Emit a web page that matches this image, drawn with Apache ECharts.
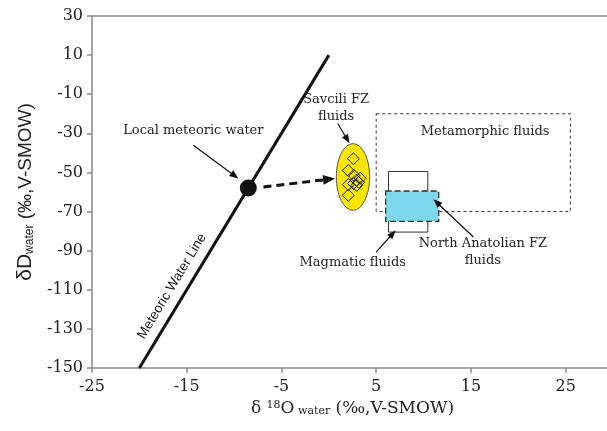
<!DOCTYPE html>
<html><head><meta charset="utf-8">
<script src="https://cdn.jsdelivr.net/npm/echarts@6/dist/echarts.min.js"></script>
<style>html,body{margin:0;padding:0;background:#fff}#c{width:607px;height:431px}</style>
</head><body><div id="c"></div>
<script>
// ---- data ----
const xTicks = [-25, -15, -5, 5, 15, 25];
const yTicks = [-150, -130, -110, -90, -70, -50, -30, -10, 10, 30];
const meteoricWaterLine = [[-20, -150], [0, 10]];
const localMeteoricWater = [[-8.5, -58]];
const savciliFZ = [[2.6, -43], [2.05, -49], [2.65, -51.5], [2.9, -54], [2.6, -55.7], [3.15, -55], [2.05, -56.2], [2.95, -56.6], [3.3, -53], [2.05, -61.7]];
const savciliEllipse = [[2.55, -52.3, 1.76, 17]];      // cx, cy, rx, ry
const metamorphicBox = [[5, -70, 25.5, -20]];           // x1, y1, x2, y2
const magmaticBox = [[6.3, -80.5, 10.45, -49.5]];
const northAnatolianBox = [[6, -75, 11.6, -59.5]];
const pointerArrows = [[-14.3, -36.1, -9.55, -53.1], [0.94, -25, 2.19, -35.1], [4.99, -90.7, 7.07, -79.6], [15.26, -83, 11.04, -63.7]];
const mixingArrow = [[-6.9, -57.4, 0.66, -53.1]];
const labelTexts = ['Local meteoric water', 'Savcili FZ\nfluids', 'Metamorphic fluids', 'Magmatic fluids', 'North Anatolian FZ\nfluids'];
const labelAnchors = [[-14.3, -28.4], [0.77, -17.2], [16.5, -29.3], [2.53, -96.1], [16.26, -90.8]];
const lineLabelText = 'Meteoric Water Line';
const lineLabelAnchor = [[-16.55, -108.2]];

// ---- chart ----
const axisGray = '#8a8a8a';
const serif = '"DejaVu Serif", serif';
const sans = '"Liberation Sans", "Open Sans", sans-serif';

function boxItem(style) {
  return function (params, api) {
    const p1 = api.coord([api.value(0), api.value(3)]);
    const p2 = api.coord([api.value(2), api.value(1)]);
    return { type: 'rect', shape: { x: p1[0], y: p1[1], width: p2[0] - p1[0], height: p2[1] - p1[1] }, style: style };
  };
}
function arrowItem(headLen, headW, lineW, dash) {
  return function (params, api) {
    const a = api.coord([api.value(0), api.value(1)]);
    const b = api.coord([api.value(2), api.value(3)]);
    const dx = b[0] - a[0], dy = b[1] - a[1], L = Math.hypot(dx, dy);
    const ux = dx / L, uy = dy / L;
    const base = [b[0] - ux * headLen, b[1] - uy * headLen];
    const px = -uy, py = ux;
    return { type: 'group', children: [
      { type: 'line', shape: { x1: a[0], y1: a[1], x2: base[0] + ux, y2: base[1] + uy }, style: { stroke: '#111', lineWidth: lineW, lineDash: dash } },
      { type: 'polygon', shape: { points: [b, [base[0] + px * headW, base[1] + py * headW], [base[0] - px * headW, base[1] - py * headW]] }, style: { fill: '#111' } }
    ] };
  };
}

const chart = echarts.init(document.getElementById('c'), null, { renderer: 'canvas' });
chart.setOption({
  animation: false,
  backgroundColor: '#fff',
  grid: { left: 92, top: 16, width: 521, height: 352, outerBoundsMode: 'none', containLabel: false },
  xAxis: [{
    type: 'value', min: -25, max: 30, interval: 10,
    axisLine: { show: true, onZero: false, lineStyle: { color: axisGray, width: 1.5 } },
    axisTick: { show: true, length: 5, customValues: xTicks, lineStyle: { color: axisGray, width: 1.5 } },
    axisLabel: { customValues: xTicks, margin: 11, color: '#222', fontFamily: serif, fontSize: 16 },
    splitLine: { show: false },
    name: '{a|δ }{sup|18}{a|O}{sub| water}{a| (‰,V-SMOW)}',
    nameLocation: 'middle', nameGap: 20,
    nameTextStyle: {
      rich: {
        a: { fontFamily: serif, fontSize: 17, color: '#222' },
        sup: { fontFamily: serif, fontSize: 11, color: '#222', verticalAlign: 'top' },
        sub: { fontFamily: serif, fontSize: 11, color: '#222', verticalAlign: 'bottom' }
      }
    }
  }, {
    type: 'value', position: 'top', min: -25, max: 30,
    axisLine: { show: true, onZero: false, lineStyle: { color: axisGray, width: 1.5 } },
    axisTick: { show: false }, axisLabel: { show: false }, splitLine: { show: false }
  }],
  yAxis: {
    type: 'value', min: -150, max: 30, interval: 20,
    axisLine: { show: true, onZero: false, lineStyle: { color: axisGray, width: 1.5 } },
    axisTick: { show: true, length: 5, customValues: yTicks, lineStyle: { color: axisGray, width: 1.5 } },
    axisLabel: { customValues: yTicks, margin: 9, color: '#222', fontFamily: serif, fontSize: 16 },
    splitLine: { show: false },
    name: '{d|δD}{s|water}{n| (‰,V-SMOW)}',
    nameLocation: 'middle', nameRotate: 90, nameGap: 56,
    nameTextStyle: {
      rich: {
        d: { fontFamily: sans, fontSize: 21, color: '#222' },
        s: { fontFamily: sans, fontSize: 12, color: '#222', verticalAlign: 'bottom' },
        n: { fontFamily: sans, fontSize: 19, color: '#222' }
      }
    }
  },
  series: [
    { type: 'custom', data: metamorphicBox, encode: { x: [0, 2], y: [1, 3] }, z: 1,
      renderItem: boxItem({ fill: 'none', stroke: '#333', lineWidth: 1, lineDash: [3, 3] }) },
    { type: 'custom', data: magmaticBox, encode: { x: [0, 2], y: [1, 3] }, z: 2,
      renderItem: boxItem({ fill: 'none', stroke: '#333', lineWidth: 1 }) },
    { type: 'custom', data: northAnatolianBox, encode: { x: [0, 2], y: [1, 3] }, z: 3,
      renderItem: boxItem({ fill: '#7fd6ef', stroke: '#333', lineWidth: 1.3, lineDash: [6, 3] }) },
    { type: 'custom', data: savciliEllipse, encode: { x: 0, y: 1 }, z: 4,
      renderItem: function (params, api) {
        const c = api.coord([api.value(0), api.value(1)]);
        const s = api.size([api.value(2), api.value(3)]);
        return { type: 'ellipse', shape: { cx: c[0], cy: c[1], rx: s[0], ry: s[1] }, style: { fill: '#ffe600', stroke: '#555', lineWidth: 1 } };
      } },
    { type: 'scatter', data: savciliFZ, symbol: 'diamond', symbolSize: 12, z: 5,
      itemStyle: { color: 'rgba(0,0,0,0)', borderColor: '#222', borderWidth: 1, opacity: 1 } },
    { type: 'line', data: meteoricWaterLine, symbol: 'none', z: 6,
      lineStyle: { color: '#111', width: 3 } },
    { type: 'scatter', data: localMeteoricWater, symbol: 'circle', symbolSize: 17, z: 7,
      itemStyle: { color: '#111', opacity: 1 } },
    { type: 'custom', data: pointerArrows, encode: { x: [0, 2], y: [1, 3] }, z: 8,
      renderItem: arrowItem(9, 3.5, 1.2, null) },
    { type: 'custom', data: mixingArrow, encode: { x: [0, 2], y: [1, 3] }, z: 8,
      renderItem: arrowItem(12, 5, 3, [8, 5]) },
    { type: 'custom', data: labelAnchors, encode: { x: 0, y: 1 }, z: 9,
      renderItem: function (params, api) {
        const p = api.coord([api.value(0), api.value(1)]);
        return { type: 'text', x: p[0], y: p[1], style: { text: labelTexts[params.dataIndex], fontFamily: serif, fontSize: 13, lineHeight: 17, fill: '#222', align: 'center', verticalAlign: 'middle' } };
      } },
    { type: 'custom', data: lineLabelAnchor, encode: { x: 0, y: 1 }, z: 9,
      renderItem: function (params, api) {
        const p = api.coord([api.value(0), api.value(1)]);
        const a = api.coord(meteoricWaterLine[0]);
        const b = api.coord(meteoricWaterLine[1]);
        const rot = Math.atan2(a[1] - b[1], b[0] - a[0]);
        return { type: 'text', x: p[0], y: p[1], rotation: rot, style: { text: lineLabelText, fontFamily: sans, fontSize: 13.5, fill: '#111', align: 'center', verticalAlign: 'middle' } };
      } }
  ]
});
</script>
</body></html>
